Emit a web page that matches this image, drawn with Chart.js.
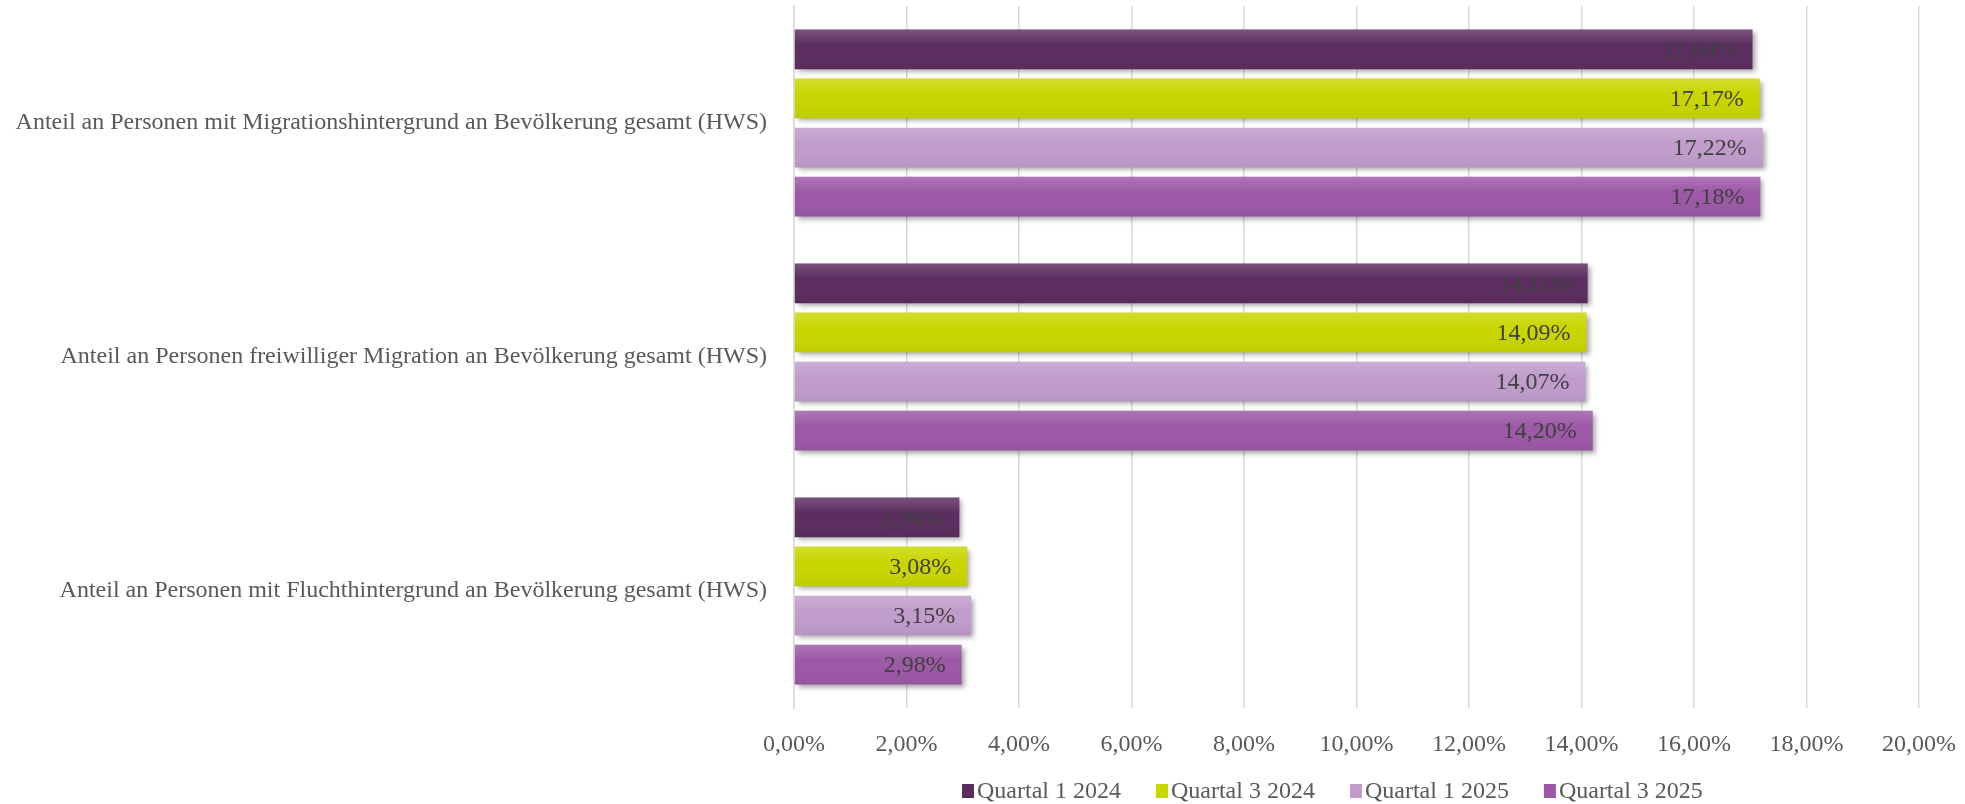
<!DOCTYPE html>
<html>
<head>
<meta charset="utf-8">
<script src="https://cdn.jsdelivr.net/npm/chart.js@4"></script>
<style>
  body { margin: 0; background: #fff; }
  #chart { display: block; }
</style>
</head>
<body>
<canvas id="chart" width="1965" height="804"></canvas>
<script>
// ----------------------------
// DATA
// ----------------------------
const categories = [
  "Anteil an Personen mit Migrationshintergrund an Bevölkerung gesamt (HWS)",
  "Anteil an Personen freiwilliger Migration an Bevölkerung gesamt (HWS)",
  "Anteil an Personen mit Fluchthintergrund an Bevölkerung gesamt (HWS)",
];
const seriesNames = ["Quartal 1 2024", "Quartal 3 2024", "Quartal 1 2025", "Quartal 3 2025"];
const q1_2024 = [17.04, 14.11, 2.94];
const q3_2024 = [17.17, 14.09, 3.08];
const q1_2025 = [17.22, 14.07, 3.15];
const q3_2025 = [17.18, 14.2, 2.98];
const xTicks = [0, 2, 4, 6, 8, 10, 12, 14, 16, 18, 20];

const colors = ["#5b2d5f", "#c8d600", "#c09ccb", "#9c58a6"];
const FONT = "'Liberation Serif', 'Times New Roman', serif";
const TEXT = "#595959";

const fmt = (v) => v.toFixed(2).replace(".", ",") + "%";

// ----------------------------
// PLUGINS: shadow, shine, labels, legend
// ----------------------------
const barStyle = {
  id: "barStyle",
  beforeDatasetsDraw(chart) {
    const c = chart.ctx;
    c.save();
    c.shadowColor = "rgba(0,0,0,0.35)";
    c.shadowBlur = 5;
    c.shadowOffsetX = 3;
    c.shadowOffsetY = 3;
  },
  afterDatasetsDraw(chart) {
    const c = chart.ctx;
    c.restore();
    chart.data.datasets.forEach((ds, i) => {
      const meta = chart.getDatasetMeta(i);
      meta.data.forEach((bar, j) => {
        const top = bar.y - bar.height / 2;
        const left = bar.base;
        const w = bar.x - bar.base;
        const g = c.createLinearGradient(0, top, 0, top + bar.height);
        g.addColorStop(0, "rgba(255,255,255,0.18)");
        g.addColorStop(0.4, "rgba(255,255,255,0)");
        g.addColorStop(1, "rgba(0,0,0,0.05)");
        c.fillStyle = g;
        c.fillRect(left, top, w, bar.height);

        c.font = "24px " + FONT;
        c.fillStyle = "#404040";
        c.textAlign = "right";
        c.textBaseline = "middle";
        c.fillText(fmt(ds.data[j]), bar.x - 16, bar.y + 1);
      });
    });
  },
};

// legend drawn by hand: small box, tight gap, like the office chart
const bottomLegend = {
  id: "bottomLegend",
  afterDraw(chart) {
    const c = chart.ctx;
    c.save();
    c.font = "24px " + FONT;
    c.textBaseline = "middle";
    c.textAlign = "left";
    let x = 962;
    const y = 791;
    chart.data.datasets.forEach((ds) => {
      c.fillStyle = ds.backgroundColor;
      c.fillRect(x, y - 7, 12, 14);
      c.fillStyle = TEXT;
      c.fillText(ds.label, x + 15, y + 1);
      x += 15 + c.measureText(ds.label).width + 35;
    });
    c.restore();
  },
};

// ----------------------------
// CHART
// ----------------------------
const allSeries = [q1_2024, q3_2024, q1_2025, q3_2025];

new Chart(document.getElementById("chart"), {
  type: "bar",
  data: {
    labels: categories,
    datasets: allSeries.map((data, i) => ({
      label: seriesNames[i],
      data: data,
      backgroundColor: colors[i],
      borderWidth: 0,
      barPercentage: 0.81,
      categoryPercentage: 0.84,
    })),
  },
  options: {
    indexAxis: "y",
    responsive: false,
    animation: false,
    devicePixelRatio: 1,
    layout: { padding: { top: 6, right: 46, left: 0, bottom: 26 } },
    plugins: {
      tooltip: { enabled: false },
      legend: { display: false },
    },
    scales: {
      x: {
        min: 0,
        max: 20,
        afterBuildTicks(scale) {
          scale.ticks = xTicks.map((v) => ({ value: v }));
        },
        afterFit(scale) {
          scale.height = 70;
          scale.paddingLeft = 0;
          scale.paddingRight = 0;
        },
        grid: { color: "#d9d9d9", lineWidth: 1.5, drawTicks: false },
        border: { display: false },
        ticks: {
          padding: 22,
          color: TEXT,
          font: { family: FONT, size: 24 },
          callback: (v) => fmt(v),
        },
      },
      y: {
        afterFit(scale) {
          scale.width = 794;
          scale.paddingTop = 0;
          scale.paddingBottom = 0;
        },
        grid: { display: false, drawTicks: false },
        border: { display: true, color: "#d9d9d9", width: 1.5 },
        ticks: {
          padding: 27,
          color: TEXT,
          font: { family: FONT, size: 24 },
        },
      },
    },
  },
  plugins: [barStyle, bottomLegend],
});
</script>
</body>
</html>
